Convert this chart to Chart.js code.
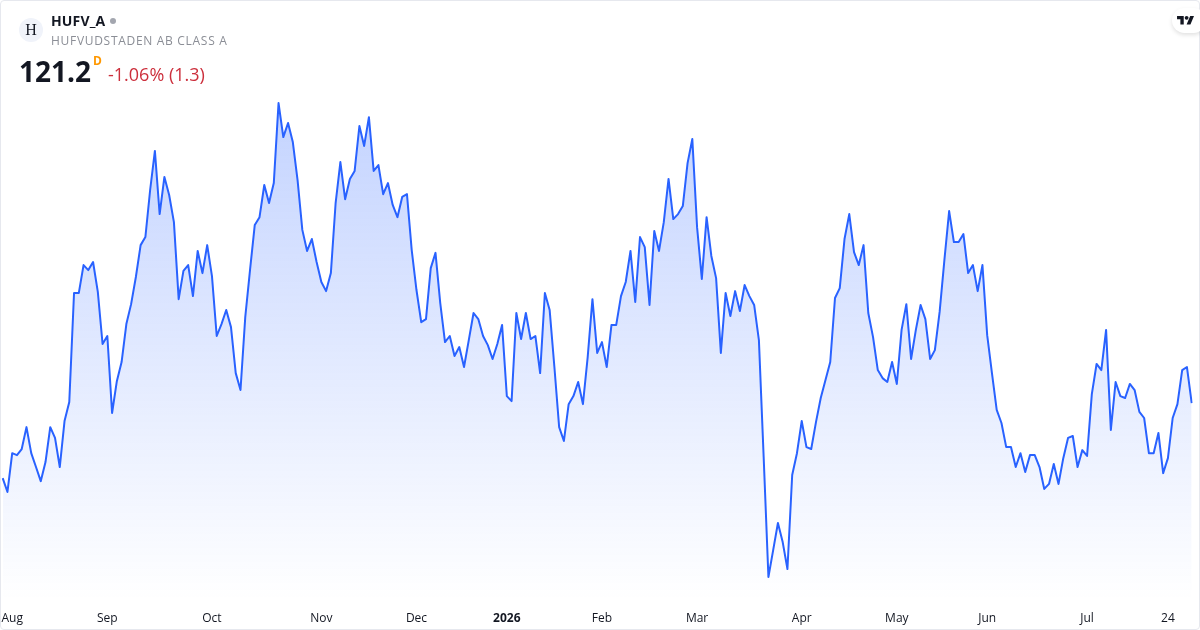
<!DOCTYPE html>
<html>
<head>
<meta charset="utf-8">
<title>HUFV_A</title>
<script src="https://cdn.jsdelivr.net/npm/chart.js@4"></script>
<style>
  html, body { margin: 0; padding: 0; background: #fff; }
  body { width: 1200px; height: 630px; position: relative; overflow: hidden; font-family: "Open Sans", sans-serif; color: #131722; }
  #chart { position: absolute; left: 0; top: 0; }
  #card { position: absolute; left: 0; top: 0; width: 1198px; height: 628px; border: 1px solid #e6e8ee; border-radius: 4px; pointer-events: none; }
  .abs { position: absolute; white-space: nowrap; }
  #logo { left: 19px; top: 18px; width: 24px; height: 24px; border-radius: 50%; background: #f0f3fa; font: 16px/24px "Liberation Serif", serif; text-align: center; }
  #symbol { left: 51px; top: 11px; font-size: 14px; line-height: 20px; font-weight: 700; letter-spacing: 0.15px; }
  #dot { left: 110px; top: 18px; width: 6px; height: 6px; border-radius: 50%; background: #a3a6af; }
  #name { left: 51px; top: 32px; font-size: 12px; line-height: 17px; color: #8b8e96; letter-spacing: 0.7px; }
  #price { left: 19px; top: 52px; font-size: 28px; line-height: 38px; font-weight: 700; }
  #interval { left: 93px; top: 53px; font-size: 12px; line-height: 16px; font-weight: 700; color: #ff9800; }
  #change { left: 108px; top: 62px; font-size: 18px; line-height: 25px; color: #cc2f3c; }
  #tv { left: 1172px; top: 8px; width: 34px; height: 25px; border-radius: 13px; background: #fff; box-shadow: 0 2px 4px rgba(0,0,0,0.12); }
  #tv svg { position: absolute; left: 5px; top: 6px; }
</style>
</head>
<body>
<canvas id="chart" width="1200" height="630"></canvas>
<div id="card"></div>
<div class="abs" id="logo">H</div>
<div class="abs" id="symbol">HUFV_A</div>
<div class="abs" id="dot"></div>
<div class="abs" id="name">HUFVUDSTADEN AB CLASS A</div>
<div class="abs" id="price">121.2</div>
<div class="abs" id="interval">D</div>
<div class="abs" id="change">-1.06% (1.3)</div>
<div class="abs" id="tv">
  <svg width="17.3" height="13.4" viewBox="0 0 36 28"><path fill="#131722" d="M14 22H7V11H0V4h14v18zM28 22h-8l7.5-18h8L28 22z"/><circle fill="#131722" cx="20" cy="8" r="4"/></svg>
</div>

<script>
// daily closes
const closes = [
  118.49, 117.99, 119.39, 119.32, 119.54, 120.33, 119.39, 118.89, 118.38, 119.07,
  120.33, 119.94, 118.89, 120.55, 121.24, 125.17, 125.17, 126.18, 126.00, 126.29,
  125.21, 123.33, 123.62, 120.84, 121.99, 122.68, 124.05, 124.77, 125.75, 126.90,
  127.19, 128.89, 130.30, 128.02, 129.36, 128.71, 127.73, 124.95, 125.97, 126.18,
  125.06, 126.69, 125.89, 126.90, 125.78, 123.62, 124.05, 124.56, 123.94, 122.28,
  121.67, 124.30, 126.00, 127.63, 127.91, 129.07, 128.42, 129.14, 132.03, 130.80,
  131.31, 130.62, 129.25, 127.45, 126.69, 127.12, 126.29, 125.57, 125.24, 125.89,
  128.42, 129.90, 128.56, 129.29, 129.58, 131.20, 130.48, 131.52, 129.58, 129.79,
  128.74, 129.14, 128.35, 127.91, 128.64, 128.74, 126.72, 125.28, 124.12, 124.23,
  126.07, 126.62, 124.81, 123.40, 123.62, 122.90, 123.22, 122.50, 123.47, 124.45,
  124.23, 123.62, 123.29, 122.79, 123.33, 124.02, 121.45, 121.27, 124.45, 123.51,
  124.45, 123.51, 123.62, 122.28, 125.17, 124.56, 122.50, 120.33, 119.83, 121.16,
  121.45, 121.96, 121.16, 122.86, 124.95, 123.01, 123.40, 122.50, 124.02, 124.02,
  125.06, 125.57, 126.69, 124.85, 127.19, 126.83, 124.74, 127.41, 126.69, 127.73,
  129.29, 127.84, 128.02, 128.31, 129.86, 130.73, 127.55, 125.68, 127.91, 126.51,
  125.71, 123.01, 125.17, 124.34, 125.24, 124.52, 125.46, 125.06, 124.74, 123.47,
  119.25, 114.92, 115.89, 116.87, 116.18, 115.21, 118.60, 119.39, 120.55, 119.61,
  119.54, 120.51, 121.38, 122.03, 122.68, 124.99, 125.35, 127.12, 128.02, 126.65,
  126.18, 126.90, 124.45, 123.58, 122.39, 122.10, 121.96, 122.68, 121.89, 123.84,
  124.77, 122.79, 123.84, 124.74, 124.23, 122.79, 123.11, 124.49, 126.36, 128.13,
  127.01, 127.01, 127.30, 125.89, 126.18, 125.24, 126.18, 123.65, 122.28, 120.95,
  120.48, 119.61, 119.61, 118.89, 119.39, 118.71, 119.32, 119.32, 118.89, 118.10,
  118.28, 119.00, 118.28, 119.21, 119.94, 120.01, 118.89, 119.50, 119.29, 121.52,
  122.61, 122.39, 123.84, 120.23, 121.96, 121.45, 121.38, 121.89, 121.67, 120.88,
  120.66, 119.39, 119.39, 120.12, 118.67, 119.21, 120.66, 121.16, 122.39, 122.50,
  121.20
];

// bar number where each time label sits
const tickIndexes = [2, 22, 44, 67, 87, 106, 126, 146, 168, 188, 207, 228, 245];
const tickLabels = ["Aug", "Sep", "Oct", "Nov", "Dec", "2026", "Feb", "Mar", "Apr", "May", "Jun", "Jul", "24"];

const categories = closes.map((_, i) => {
  const t = tickIndexes.indexOf(i);
  return t >= 0 ? tickLabels[t] : "";
});

function areaFill(ctx) {
  const area = ctx.chart.chartArea;
  if (!area) return "rgba(41,98,255,0.1)";
  const g = ctx.chart.ctx.createLinearGradient(0, ctx.chart.scales.y.getPixelForValue(Math.max(...closes)), 0, area.bottom);
  g.addColorStop(0, "rgba(41,98,255,0.28)");
  g.addColorStop(1, "rgba(41,98,255,0)");
  return g;
}

new Chart(document.getElementById("chart"), {
  type: "line",
  data: {
    labels: categories,
    datasets: [
      {
        data: closes,
        borderColor: "#2962ff",
        borderWidth: 2,
        borderJoinStyle: "round",
        pointRadius: 0,
        tension: 0,
        fill: "start",
        backgroundColor: areaFill,
      },
    ],
  },
  options: {
    responsive: false,
    animation: false,
    layout: { padding: { left: 2.7, right: 8.3, top: 90, bottom: 0 } },
    plugins: { legend: { display: false }, tooltip: { enabled: false } },
    scales: {
      x: {
        offset: false,
        // no extra room for the tick labels, the plot runs to the card edge
        afterFit(scale) {
          scale.height = 30;
          scale.paddingLeft = 0;
          scale.paddingRight = 0;
        },
        grid: { display: false, drawTicks: false },
        border: { display: false },
        ticks: {
          autoSkip: false,
          maxRotation: 0,
          padding: 11,
          color: "#131722",
          font: (ctx) => ({
            family: "'Open Sans'",
            size: 12,
            weight: ctx.tick && ctx.tick.label === "2026" ? "700" : "400",
          }),
        },
      },
      y: { display: false, min: 114.09, max: 132.5 },
    },
  },
});
</script>
</body>
</html>
